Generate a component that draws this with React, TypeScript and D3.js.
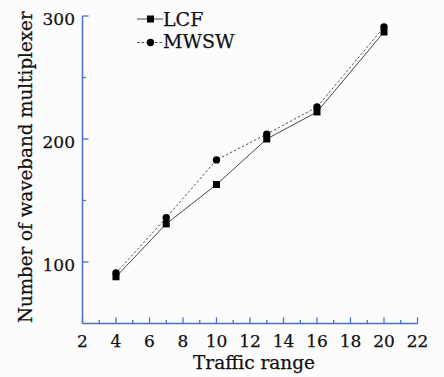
import React from "react";
import * as d3 from "d3";

const xValues = [4, 7, 10, 13, 16, 20];
const lcfValues = [88, 131, 163, 200, 222, 287];
const mwswValues = [91, 136, 183, 204, 226, 291];
const xTickLabels = [2, 4, 6, 8, 10, 12, 14, 16, 18, 20, 22];
const xMinorTicks = d3.range(3, 22, 2);
const yTickLabels = [100, 200, 300];
const yMinorTicks = [150, 250];
const seriesNames = ["LCF", "MWSW"];

const W = 444;
const H = 377;
const axisColor = "#4a72c0";
const font = "'DejaVu Serif', serif";
const textColor = "#111";

export default function App() {
  const x = d3.scaleLinear().domain([2, 22]).range([82.5, 417.5]);
  const y = d3.scaleLinear().domain([50, 300]).range([323.5, 16]);
  const line = d3
    .line<[number, number]>()
    .x((d) => x(d[0]))
    .y((d) => y(d[1]));
  const lcf = xValues.map((v, i) => [v, lcfValues[i]] as [number, number]);
  const mwsw = xValues.map((v, i) => [v, mwswValues[i]] as [number, number]);
  const y0 = y.range()[0];
  const x0 = x.range()[0];
  const textStroke = { stroke: textColor, strokeWidth: 0.25 };

  return (
    <svg
      width={W}
      height={H}
      style={{ position: "absolute", left: 0, top: 0, background: "#fcfcfc" }}
    >
      {/* axes */}
      <line x1={x0} x2={x.range()[1]} y1={y0} y2={y0} stroke={axisColor} strokeWidth={1.5} />
      <line x1={x0} x2={x0} y1={y0} y2={y.range()[1]} stroke={axisColor} strokeWidth={1.5} />
      {xTickLabels.map((t) => (
        <g key={"xt" + t}>
          <line x1={x(t)} x2={x(t)} y1={y0} y2={y0 - 6} stroke={axisColor} strokeWidth={1.3} />
          <text x={x(t)} y={347} textAnchor="middle" fontFamily={font} fontSize={17} fill={textColor} {...textStroke}>
            {t}
          </text>
        </g>
      ))}
      {xMinorTicks.map((t) => (
        <line key={"xm" + t} x1={x(t)} x2={x(t)} y1={y0} y2={y0 - 3.5} stroke={axisColor} strokeWidth={1.3} />
      ))}
      {yTickLabels.map((t) => (
        <g key={"yt" + t}>
          <line x1={x0} x2={x0 + 6} y1={y(t)} y2={y(t)} stroke={axisColor} strokeWidth={1.3} />
          <text x={75} y={y(t) + 9} textAnchor="end" fontFamily={font} fontSize={17} fill={textColor} {...textStroke}>
            {t}
          </text>
        </g>
      ))}
      {yMinorTicks.map((t) => (
        <line key={"ym" + t} x1={x0} x2={x0 + 3.5} y1={y(t)} y2={y(t)} stroke={axisColor} strokeWidth={1.3} />
      ))}
      <text x={254} y={369} textAnchor="middle" fontFamily={font} fontSize={18.5} fill={textColor} {...textStroke}>
        Traffic range
      </text>
      <text
        transform={`translate(32,${(y0 + 11) / 2}) rotate(-90)`}
        textAnchor="middle"
        fontFamily={font}
        fontSize={18.3}
        fill={textColor}
        {...textStroke}
      >
        Number of waveband multiplexer
      </text>

      {/* series */}
      <path d={line(mwsw) || ""} fill="none" stroke="#444" strokeWidth={0.9} strokeDasharray="2.5,2" />
      <path d={line(lcf) || ""} fill="none" stroke="#333" strokeWidth={0.9} />
      {lcf.map((d, i) => (
        <rect key={"l" + i} x={x(d[0]) - 3.5} y={y(d[1]) - 3.5} width={7} height={7} fill="#000" />
      ))}
      {mwsw.map((d, i) => (
        <circle key={"m" + i} cx={x(d[0])} cy={y(d[1])} r={3.7} fill="#000" />
      ))}

      {/* legend */}
      <line x1={137} x2={163} y1={19} y2={19} stroke="#333" strokeWidth={0.9} />
      <rect x={147} y={15.5} width={7} height={7} fill="#000" />
      <text x={163} y={26} fontFamily={font} fontSize={19} fill={textColor} {...textStroke}>
        {seriesNames[0]}
      </text>
      <line x1={137} x2={163} y1={42.5} y2={42.5} stroke="#444" strokeWidth={0.9} strokeDasharray="2.5,2" />
      <circle cx={150.5} cy={42.5} r={3.7} fill="#000" />
      <text x={163} y={48} fontFamily={font} fontSize={19} fill={textColor} {...textStroke}>
        {seriesNames[1]}
      </text>
    </svg>
  );
}
